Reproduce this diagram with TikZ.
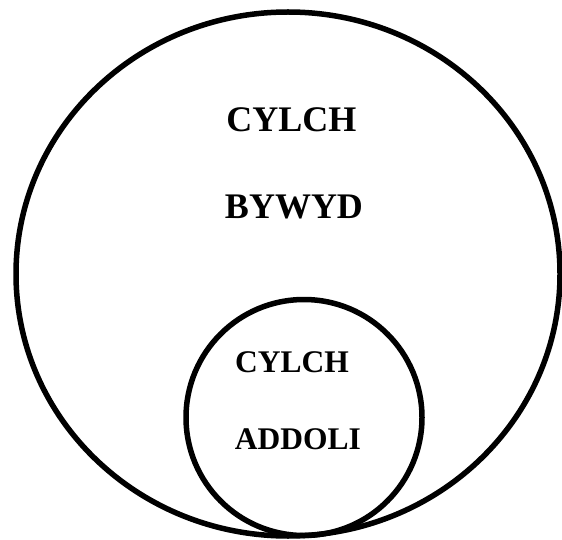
\documentclass[tikz,border=0pt]{standalone}
\usepackage{fontspec}
\setmainfont{Liberation Serif}
\usetikzlibrary{shapes.geometric}
\begin{document}
\begin{tikzpicture}[x=1pt,y=1pt,
  ring/.style={draw=black, line width=5.5pt, inner sep=0pt, outer sep=0pt},
  bigtxt/.style={inner sep=0pt, font=\bfseries\fontsize{36}{40}\selectfont},
  smalltxt/.style={inner sep=0pt, font=\bfseries\fontsize{31.5}{36}\selectfont}]
\useasboundingbox (0,0) rectangle (562,539);
\node[ring, ellipse, minimum width=544pt, minimum height=524pt] (outer) at (288,265) {};
\node[ring, circle, minimum size=236pt] (inner) at (304,121.5) {};
\node[bigtxt] (t1) at (291.5,419.5) {CYLCH};
\node[bigtxt] (t2) at (294,332) {BYWYD};
\node[smalltxt] (t3) at (292,176.5) {CYLCH};
\node[smalltxt] (t4) at (298,100) {ADDOLI};
\end{tikzpicture}
\end{document}
